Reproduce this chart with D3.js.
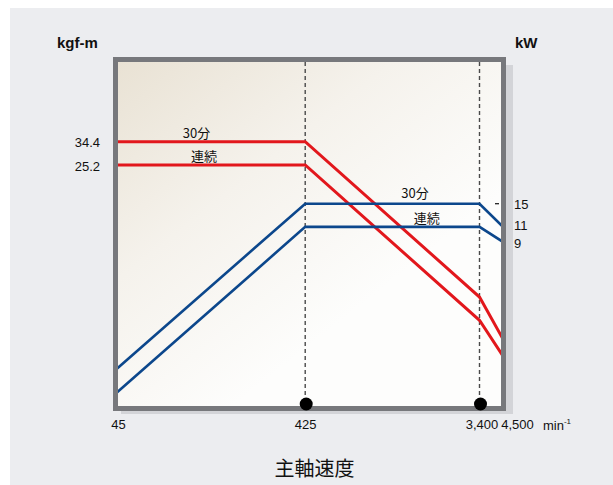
<!DOCTYPE html>
<html>
<head>
<meta charset="utf-8">
<script src="https://cdn.jsdelivr.net/npm/d3@7"></script>
<style>
  html, body { margin: 0; padding: 0; background: #ffffff; }
  svg { display: block; }
  text { font-family: "Liberation Sans", Arial, sans-serif; fill: #111; }
  .jp { font-family: "Noto Sans CJK JP", "Noto Sans", sans-serif; }
</style>
</head>
<body>
<svg id="chart" width="613" height="485"></svg>
<script>
// ---- data ----
const speeds = [45, 425, 3400, 4500];               // min^-1
const torque30 = [34.4, 34.4, 4.3, 2.45];           // kgf-m, 30分
const torqueCont = [25.2, 25.2, 3.15, 1.95];        // kgf-m, 連続
const power30 = [1.65, 15, 15, 11];                 // kW, 30分
const powerCont = [1.2, 11, 11, 9];                 // kW, 連続
const xTicks = [45, 425, 3400, 4500];
const torqueTicks = [34.4, 25.2];
const powerTicks = [15, 11, 9];
const markerSpeeds = [425, 3400];
const seriesNames = ["30分", "連続"];

// ---- layout ----
const svg = d3.select("#chart");
const W = 613, H = 485;
const plot = { left: 118, right: 501, top: 62, bottom: 406 };
const red = "#e2171c", blue = "#0c478c";

// panel background
svg.append("rect").attr("x", 10).attr("y", 8).attr("width", W - 10).attr("height", H - 8)
  .attr("fill", "#ecedf0");

const defs = svg.append("defs");
const grad = defs.append("linearGradient").attr("id", "bgGrad")
  .attr("gradientUnits", "userSpaceOnUse")
  .attr("x1", 118).attr("y1", 62).attr("x2", 330).attr("y2", 330);
grad.append("stop").attr("offset", 0).attr("stop-color", "#e9e2d4");
grad.append("stop").attr("offset", 0.5).attr("stop-color", "#f5f2ec");
grad.append("stop").attr("offset", 1).attr("stop-color", "#fdfdfc");
defs.append("clipPath").attr("id", "plotClip").append("rect")
  .attr("x", plot.left).attr("y", plot.top)
  .attr("width", plot.right - plot.left).attr("height", plot.bottom - plot.top);

// scales
const x = d3.scaleLog().domain([45, 4500]).range([117, 503]);
const y = d3.scaleLog().domain([1, 100]).range([plot.bottom, plot.top]);   // torque kgf-m
const yP = d3.scaleLog().domain([1, 100]).range([plot.bottom, plot.top]);  // power kW

// shadow
svg.append("rect").attr("x", 121).attr("y", 65)
  .attr("width", 513 - 121).attr("height", 414 - 65).attr("fill", "#d3d4d8");

// plot background
svg.append("rect").attr("x", plot.left).attr("y", plot.top)
  .attr("width", plot.right - plot.left).attr("height", plot.bottom - plot.top)
  .attr("fill", "url(#bgGrad)");

// dashed verticals
svg.append("g").selectAll("line").data(markerSpeeds).join("line")
  .attr("x1", d => x(d)).attr("x2", d => x(d))
  .attr("y1", plot.top).attr("y2", plot.bottom)
  .attr("stroke", "#4a4a4a").attr("stroke-width", 1.4)
  .attr("stroke-dasharray", "4,3");

// lines
const g = svg.append("g").attr("clip-path", "url(#plotClip)");
const lineT = d3.line().x((d, i) => x(speeds[i])).y(d => y(d));
const lineP = d3.line().x((d, i) => x(speeds[i])).y(d => yP(d));
[torque30, torqueCont].forEach(s => {
  g.append("path").attr("d", lineT(s)).attr("fill", "none")
    .attr("stroke", red).attr("stroke-width", 3);
});
[power30, powerCont].forEach(s => {
  g.append("path").attr("d", lineP(s)).attr("fill", "none")
    .attr("stroke", blue).attr("stroke-width", 2.6);
});

// frame
svg.append("rect").attr("x", 115.5).attr("y", 59.5)
  .attr("width", 503.5 - 115.5).attr("height", 408.5 - 59.5)
  .attr("fill", "none").attr("stroke", "#77787c").attr("stroke-width", 5);

// markers
svg.append("g").selectAll("circle").data(markerSpeeds).join("circle")
  .attr("cx", d => x(d) + 1).attr("cy", 404).attr("r", 6.5).attr("fill", "#000");

// bottom axis
const xAxis = d3.axisBottom(x).tickValues(xTicks).tickSize(0).tickPadding(0)
  .tickFormat(d3.format(","));
const gx = svg.append("g").attr("transform", "translate(0,420)").call(xAxis);
gx.select(".domain").remove();
gx.selectAll("text").attr("font-size", 13).attr("font-family", "Liberation Sans, Arial, sans-serif")
  .attr("fill", "#111")
  .attr("dx", d => d === 4500 ? 14 : (d === 45 ? 1 : (d === 3400 ? 2 : 0)));

// min^-1
const minT = svg.append("text").attr("x", 543).attr("y", 430).attr("font-size", 13);
minT.append("tspan").text("min");
minT.append("tspan").attr("font-size", 8).attr("dy", -6).text("-1");

// left axis (torque)
const yAxis = d3.axisLeft(y).tickValues(torqueTicks).tickSize(0).tickPadding(18)
  .tickFormat(d3.format(".1f"));
const gy = svg.append("g").attr("transform", `translate(${plot.left},1)`).call(yAxis);
gy.select(".domain").remove();
gy.selectAll("text").attr("font-size", 13).attr("font-family", "Liberation Sans, Arial, sans-serif").attr("fill", "#111");

// right axis (power)
const pAxis = d3.axisRight(yP).tickValues(powerTicks).tickSize(0).tickPadding(13)
  .tickFormat(d3.format("d"));
const gp = svg.append("g").attr("transform", `translate(${plot.right},0)`).call(pAxis);
gp.select(".domain").remove();
gp.selectAll("text").attr("font-size", 13).attr("font-family", "Liberation Sans, Arial, sans-serif").attr("fill", "#111")
  .attr("dy", (d, i) => ["0.35em", "0.2em", "0.45em"][i]);
// small tick at 15 kW
svg.append("line").attr("x1", 495).attr("x2", 499)
  .attr("y1", yP(powerTicks[0])).attr("y2", yP(powerTicks[0]))
  .attr("stroke", "#111").attr("stroke-width", 1.2);

// axis titles
svg.append("text").attr("x", 57).attr("y", 48).attr("font-size", 15).attr("font-weight", "bold").text("kgf-m");
svg.append("text").attr("x", 515).attr("y", 48).attr("font-size", 15).attr("font-weight", "bold").text("kW");
svg.append("text").attr("class", "jp").attr("x", 314.5).attr("y", 467)
  .attr("text-anchor", "middle").attr("dominant-baseline", "central")
  .attr("font-size", 20).text("主軸速度");

// series labels
const lbl = [
  { t: seriesNames[0], x: 196.5, y: y(torque30[0]) - 9 },
  { t: seriesNames[1], x: 204, y: y(torqueCont[0]) - 9.5 },
  { t: seriesNames[0], x: 415, y: yP(power30[1]) - 11 },
  { t: seriesNames[1], x: 426.7, y: yP(powerCont[1]) - 9 }
];
svg.append("g").selectAll("text").data(lbl).join("text")
  .attr("class", "jp").attr("x", d => d.x).attr("y", d => d.y)
  .attr("text-anchor", "middle").attr("dominant-baseline", "central")
  .attr("font-size", 13).text(d => d.t);
</script>
</body>
</html>
